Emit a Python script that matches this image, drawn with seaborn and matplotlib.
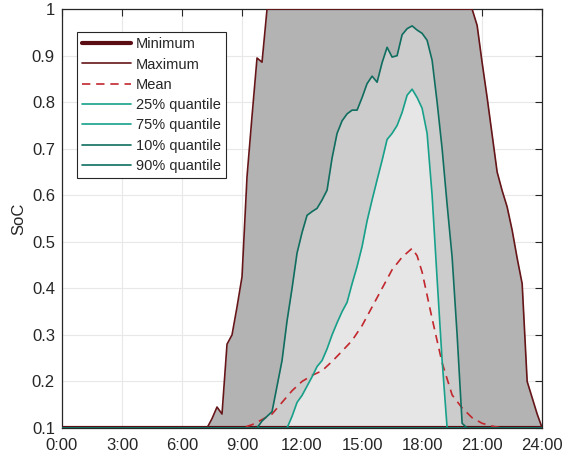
import matplotlib
matplotlib.use("Agg")
import matplotlib.pyplot as plt
import seaborn as sns

# hours of day and state of charge
min_t = [0, 24]
min_v = [0.1, 0.1]

max_t = [0, 7.25, 7.5, 7.75, 8.0, 8.25, 8.5, 8.75, 9.0, 9.25, 9.5, 9.75, 10.0, 10.25,
         20.5, 20.75, 21.0, 21.25, 21.5, 21.75, 22.0, 22.25, 22.5, 22.75, 23.0, 23.25,
         23.5, 23.75, 24.0]
max_v = [0.1, 0.1, 0.12, 0.145, 0.13, 0.28, 0.30, 0.36, 0.425, 0.64, 0.77, 0.895, 0.886, 1.0,
         1.0, 0.965, 0.885, 0.81, 0.73, 0.65, 0.61, 0.575, 0.525, 0.465, 0.41, 0.20,
         0.165, 0.13, 0.1]

mean_t = [0, 9.0, 9.5, 10.0, 10.5, 11.0, 11.5, 12.0, 12.5, 13.0, 13.5, 14.0, 14.5, 15.0,
          15.5, 16.0, 16.5, 17.0, 17.5, 17.75, 18.0, 18.5, 19.0, 19.5, 20.0, 20.5, 21.0,
          21.5, 22.0, 24]
mean_v = [0.1, 0.1, 0.107, 0.118, 0.13, 0.155, 0.18, 0.20, 0.213, 0.223, 0.243, 0.265, 0.288,
          0.32, 0.36, 0.40, 0.44, 0.467, 0.486, 0.47, 0.435, 0.335, 0.24, 0.171, 0.143, 0.122,
          0.11, 0.104, 0.1, 0.1]

q25_t = [0, 24]
q25_v = [0.1, 0.1]

q75_t = [0, 11.25, 11.5, 11.75, 12.0, 12.25, 12.5, 12.75, 13.0, 13.25, 13.5, 13.75, 14.0,
         14.25, 14.5, 14.75, 15.0, 15.25, 15.5, 15.75, 16.0, 16.25, 16.5, 16.75, 17.0, 17.25,
         17.5, 17.75, 18.0, 18.25, 18.5, 18.75, 19.0, 19.25, 24]
q75_v = [0.1, 0.1, 0.125, 0.155, 0.17, 0.19, 0.21, 0.232, 0.245, 0.27, 0.30, 0.326, 0.35,
         0.37, 0.41, 0.447, 0.49, 0.545, 0.59, 0.633, 0.675, 0.72, 0.733, 0.75, 0.778, 0.815,
         0.828, 0.81, 0.787, 0.733, 0.60, 0.42, 0.245, 0.1, 0.1]

q10_t = [0, 24]
q10_v = [0.1, 0.1]

q90_t = [0, 9.75, 10.0, 10.25, 10.5, 10.75, 11.0, 11.25, 11.5, 11.75, 12.0, 12.25, 12.5,
         12.75, 13.0, 13.25, 13.5, 13.75, 14.0, 14.25, 14.5, 14.75, 15.0, 15.25, 15.5, 15.75,
         16.0, 16.25, 16.5, 16.75, 17.0, 17.25, 17.5, 17.75, 18.0, 18.25, 18.5, 18.75, 19.0,
         19.25, 19.5, 19.75, 20.0, 20.25, 24]
q90_v = [0.1, 0.1, 0.115, 0.125, 0.135, 0.19, 0.245, 0.33, 0.40, 0.476, 0.52, 0.557, 0.565,
         0.572, 0.59, 0.611, 0.68, 0.733, 0.76, 0.775, 0.783, 0.783, 0.81, 0.84, 0.856, 0.843,
         0.885, 0.918, 0.897, 0.90, 0.945, 0.958, 0.964, 0.955, 0.948, 0.933, 0.89, 0.80,
         0.70, 0.58, 0.467, 0.30, 0.11, 0.1, 0.1]

x_ticks = [0, 3, 6, 9, 12, 15, 18, 21, 24]
x_labels = ["0:00", "3:00", "6:00", "9:00", "12:00", "15:00", "18:00", "21:00", "24:00"]
y_ticks = [0.1, 0.2, 0.3, 0.4, 0.5, 0.6, 0.7, 0.8, 0.9, 1.0]
y_labels = ["0.1", "0.2", "0.3", "0.4", "0.5", "0.6", "0.7", "0.8", "0.9", "1"]

sns.set_theme(style="white")
plt.rcParams['font.family'] = ['Liberation Sans', 'DejaVu Sans']

DARK_RED = "#5a0d12"
MAX_RED = "#661519"
MEAN_RED = "#c1272d"
TEAL = "#17a08a"
DARK_TEAL = "#0f6e60"

fig = plt.figure(figsize=(5.63, 4.57), dpi=100)
ax = fig.add_axes([0.110, 0.0635, 0.853, 0.9165])

# shaded bands: min-max, 10-90 %, 25-75 %
ax.fill_between(max_t, max_v, 0.1, color="#b3b3b3", lw=0, zorder=1)
ax.fill_between(q90_t, q90_v, 0.1, color="#cccccc", lw=0, zorder=1.1)
ax.fill_between(q75_t, q75_v, 0.1, color="#e6e6e6", lw=0, zorder=1.2)

series = [
    (min_t, min_v, "Minimum", DARK_RED, 3.0, "-"),
    (max_t, max_v, "Maximum", MAX_RED, 1.2, "-"),
    (mean_t, mean_v, "Mean", MEAN_RED, 1.2, (0, (5, 3.5))),
    (q25_t, q25_v, "25% quantile", TEAL, 1.2, "-"),
    (q75_t, q75_v, "75% quantile", TEAL, 1.2, "-"),
    (q10_t, q10_v, "10% quantile", DARK_TEAL, 1.2, "-"),
    (q90_t, q90_v, "90% quantile", DARK_TEAL, 1.2, "-"),
]
for t, v, name, col, lw, ls in series:
    sns.lineplot(x=t, y=v, ax=ax, color=col, lw=lw, linestyle=ls, label=name,
                 estimator=None, sort=False, zorder=3)

ax.set_xlim(0, 24)
ax.set_ylim(0.1, 1.0)
ax.set_xticks(x_ticks)
ax.set_xticklabels(x_labels)
ax.set_yticks(y_ticks)
ax.set_yticklabels(y_labels)
ax.set_ylabel("SoC", fontsize=12, color="#262626", labelpad=4)

ax.grid(True, color="#e8e8e8", lw=0.8)
ax.set_axisbelow(True)
ax.tick_params(direction="in", length=5, width=0.8, top=True, right=True,
               labelsize=12, colors="#262626")
ax.tick_params(axis="x", pad=7)
ax.tick_params(axis="y", pad=5)
for s in ax.spines.values():
    s.set_color("#262626")
    s.set_linewidth(0.9)

leg = ax.legend(loc="upper left", bbox_to_anchor=(0.031, 0.945), fontsize=10.5,
                frameon=True, fancybox=False, edgecolor="#262626", framealpha=1,
                handlelength=3.35, labelspacing=0.43, borderpad=0.35, handletextpad=0.36,
                borderaxespad=0)
leg.get_frame().set_linewidth(0.8)

fig.savefig("out.png", dpi=100)
